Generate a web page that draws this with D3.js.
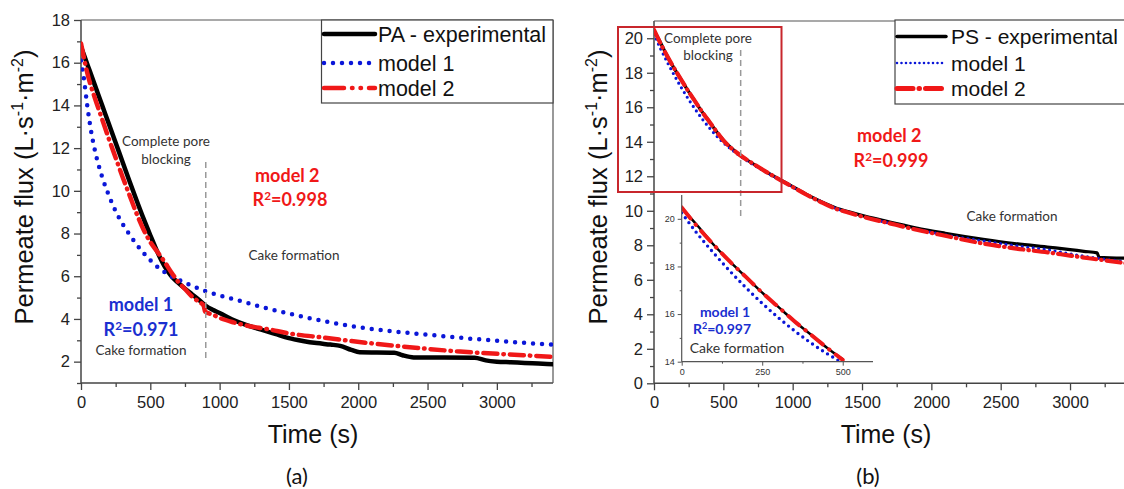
<!DOCTYPE html>
<html><head><meta charset="utf-8">
<script src="https://cdn.jsdelivr.net/npm/d3@7"></script>
<style>
body{margin:0;background:#fff;}
svg{display:block;}
</style></head>
<body>
<svg id="chart" width="1124" height="489"></svg>
<script>
// ---------- DATA ----------
// Panel (a) PA membrane
const timePA   = [0,50,100,150,200,250,300,350,400,450,500,550,600,650,700,750,800,850,900,950,1000,1100,1200,1300,1400,1500,1600,1700,1800,1870,1950,2010,2260,2320,2400,2840,2920,3000,3100,3200,3300,3405];
const fluxPA   = [16.75,15.85,14.95,14.05,13.15,12.25,11.35,10.45,9.57,8.72,7.92,7.15,6.5,6.02,5.7,5.42,5.16,4.9,4.62,4.43,4.28,3.95,3.7,3.5,3.3,3.1,2.97,2.87,2.8,2.74,2.55,2.44,2.42,2.3,2.2,2.18,2.06,2.0,1.97,1.94,1.91,1.88];
const timePAm1 = [0,20,45,70,100,150,200,250,300,350,400,450,500,550,600,650,700,800,900,1000,1100,1200,1340,1532,1750,1989,2250,2506,2750,2999,3200,3405];
const fluxPAm1 = [16.1,15.3,14.0,12.9,11.9,10.7,9.8,9.05,8.45,7.95,7.5,7.1,6.75,6.45,6.2,6.0,5.85,5.55,5.3,5.1,4.93,4.75,4.5,4.2,3.9,3.63,3.42,3.26,3.11,2.98,2.88,2.8];
const timePAm2 = [0,50,100,150,200,250,300,350,400,450,500,550,600,650,700,750,800,850,885,895,950,1000,1100,1200,1340,1532,1748,2037,2446,2734,3191,3405];
const fluxPAm2 = [16.9,15.4,14.35,13.4,12.45,11.55,10.65,9.8,8.95,8.2,7.6,7.15,6.7,6.2,5.75,5.4,5.05,4.8,4.62,4.35,4.2,4.05,3.84,3.68,3.53,3.29,3.13,2.9,2.63,2.47,2.3,2.22];

// Panel (b) PS membrane
const timePS   = [0,50,100,150,200,250,300,350,400,450,500,600,700,800,900,1000,1100,1200,1316,1400,1532,1700,1893,2100,2374,2600,2855,3000,3100,3195,3210,3400];
const fluxPS   = [20.45,19.7,18.9,18.2,17.55,16.9,16.3,15.7,15.15,14.6,14.1,13.35,12.8,12.3,11.85,11.4,10.95,10.55,10.15,9.95,9.66,9.35,9.0,8.7,8.35,8.1,7.88,7.75,7.65,7.56,7.3,7.25];
const timePSm1 = [0,50,100,150,200,250,300,350,400,450,500,600,700,800,900,1000,1100,1200,1316,1400,1532,1700,1893,2100,2374,2600,2855,3000,3200,3400];
const fluxPSm1 = [20.25,19.35,18.55,17.8,17.1,16.45,15.85,15.3,14.8,14.35,13.95,13.3,12.75,12.27,11.82,11.38,10.95,10.55,10.12,9.92,9.6,9.28,8.93,8.6,8.25,7.98,7.72,7.5,7.25,7.05];
const timePSm2 = [0,50,100,150,200,250,300,350,400,450,500,600,700,800,900,1000,1100,1200,1316,1400,1532,1700,1893,2100,2374,2600,2855,3000,3200,3400];
const fluxPSm2 = [20.48,19.65,18.9,18.2,17.55,16.9,16.3,15.7,15.15,14.6,14.08,13.35,12.8,12.3,11.83,11.38,10.93,10.52,10.1,9.9,9.6,9.27,8.9,8.55,8.1,7.82,7.57,7.4,7.18,6.96];

// Ticks and labels
const xTicks      = [0,500,1000,1500,2000,2500,3000];
const xMinor      = [250,750,1250,1750,2250,2750,3250];
const yTicksA     = [2,4,6,8,10,12,14,16,18];
const yMinorA     = [1,3,5,7,9,11,13,15,17];
const yTicksB     = [0,2,4,6,8,10,12,14,16,18,20];
const yMinorB     = [1,3,5,7,9,11,13,15,17,19];
const insetXTicks = [0,250,500];
const insetXMinor = [125,375];
const insetYTicks = [14,16,18,20];
const insetYMinor = [15,17,19];
const legendA = ["PA - experimental","model 1","model 2"];
const legendB = ["PS - experimental","model 1","model 2"];

// ---------- DRAW ----------
const svg = d3.select("#chart");
const AX = "#444";
const BLUE = "#0a16d8", RED = "#f01818", BLACK = "#000";
const SANS = "Liberation Sans, Arial, sans-serif";
const zip = (t,v) => t.map((d,i)=>({t:d,v:v[i]}));

function axes(g, x, y, yTicks, yMinor, x0, x1, y0, y1){
  g.append("g").attr("transform",`translate(0,${y0})`)
    .call(d3.axisBottom(x).tickValues(xTicks).tickSize(7).tickPadding(6).tickFormat(d3.format("d")));
  g.append("g").attr("transform",`translate(0,${y0})`)
    .call(d3.axisBottom(x).tickValues(xMinor).tickSize(4).tickFormat(""));
  g.append("g").attr("transform",`translate(${x0},0)`)
    .call(d3.axisLeft(y).tickValues(yTicks).tickSize(7).tickPadding(4).tickFormat(d3.format("d")));
  g.append("g").attr("transform",`translate(${x0},0)`)
    .call(d3.axisLeft(y).tickValues(yMinor).tickSize(4).tickFormat(""));
  g.selectAll(".domain").remove();
  g.selectAll(".tick line").attr("stroke",AX).attr("stroke-width",1.3);
  g.selectAll(".tick text").attr("font-family",SANS).attr("font-size",16.5).attr("fill","#222");
  g.append("line").attr("x1",x0).attr("x2",x1).attr("y1",y0).attr("y2",y0).attr("stroke",AX).attr("stroke-width",1.5);
  g.append("line").attr("x1",x0).attr("x2",x0).attr("y1",y0).attr("y2",y1).attr("stroke",AX).attr("stroke-width",1.5);
  g.append("line").attr("x1",x0).attr("x2",x1).attr("y1",y1).attr("y2",y1).attr("stroke","#555").attr("stroke-width",1.2);
  g.append("line").attr("x1",x1).attr("x2",x1).attr("y1",y1).attr("y2",y0).attr("stroke","#555").attr("stroke-width",1.2);
}

function series(g, x, y, data, style){
  const line = d3.line().x(d=>x(d.t)).y(d=>y(d.v)).curve(d3.curveMonotoneX);
  g.append("path").datum(data).attr("d",line).attr("fill","none")
    .attr("stroke",style.color).attr("stroke-width",style.w)
    .attr("stroke-dasharray",style.dash||null)
    .attr("stroke-linecap",style.cap||"butt").attr("stroke-linejoin","round");
}

function yLabel(cx, cy){
  const t = svg.append("text").attr("transform",`translate(${cx},${cy}) rotate(-90)`)
    .attr("text-anchor","middle").attr("font-family",SANS)
    .attr("font-size",25.5).attr("fill","#111");
  t.append("tspan").text("Permeate flux (L·s");
  t.append("tspan").attr("dy",-10).attr("font-size",16).text("-1");
  t.append("tspan").attr("dy",10).text("·m");
  t.append("tspan").attr("dy",-10).attr("font-size",16).text("-2");
  t.append("tspan").attr("dy",10).text(")");
}

function note(x, y, txt, opt={}){
  return svg.append("text").attr("x",x).attr("y",y).attr("text-anchor",opt.anchor||"middle")
    .attr("font-family","Lato, Open Sans, sans-serif").attr("font-size",opt.size||13.5)
    .attr("font-weight",opt.bold?"bold":"normal").attr("fill",opt.color||"#333").text(txt);
}
function r2(x, y, val, color, size){
  const t = svg.append("text").attr("x",x).attr("y",y).attr("text-anchor","middle")
    .attr("font-family","Lato, Open Sans, sans-serif").attr("font-size",size).attr("font-weight","bold").attr("fill",color);
  t.append("tspan").text("R");
  t.append("tspan").attr("dy",-size*0.35).attr("font-size",size*0.65).text("2");
  t.append("tspan").attr("dy",size*0.35).text("=" + val);
}

const styleExpA = {color:BLACK, w:4.5, cap:"round"};
const styleM1A  = {color:BLUE, w:4.5, dash:"0,9", cap:"round"};
const styleM2A  = {color:RED, w:4.5, dash:"14,6,0.5,6", cap:"round"};
const styleExpB = {color:BLACK, w:3.2, cap:"round"};
const styleM1B  = {color:BLUE, w:3.2, dash:"0,5.5", cap:"round"};
const styleM2B  = {color:RED, w:4.2, dash:"14,5,0.5,5", cap:"round"};

// ---- Panel (a) ----
{
  const x0=81, x1=553, yb=383, yt=20;
  const x = d3.scaleLinear().domain([0,3405]).range([x0,x1]);
  const y = d3.scaleLinear().domain([1,18]).range([yb,yt]);
  const g = svg.append("g");
  svg.append("clipPath").attr("id","clipA").append("rect").attr("x",x0).attr("y",yt).attr("width",x1-x0).attr("height",yb-yt);
  const gl = svg.append("g").attr("clip-path","url(#clipA)");
  svg.append("line").attr("x1",x(900)).attr("x2",x(900)).attr("y1",162).attr("y2",362)
    .attr("stroke","#999").attr("stroke-width",1.5).attr("stroke-dasharray","6,4");
  series(gl,x,y,zip(timePA,fluxPA),styleExpA);
  series(gl,x,y,zip(timePAm1,fluxPAm1),styleM1A);
  series(gl,x,y,zip(timePAm2,fluxPAm2),styleM2A);
  axes(g,x,y,yTicksA,yMinorA,x0,x1,yb,yt);
  const lg = svg.append("g");
  lg.append("rect").attr("x",321.5).attr("y",20).attr("width",553-321.5).attr("height",83)
    .attr("fill","#fff").attr("stroke","#444").attr("stroke-width",1.2);
  const sty=[styleExpA,styleM1A,{...styleM2A,dash:"20,8,0.5,8,0.5,8"}];
  const ly=[34,63,88];
  legendA.forEach((l,i)=>{
    lg.append("line").attr("x1",324).attr("x2",375).attr("y1",ly[i]).attr("y2",ly[i])
      .attr("stroke",sty[i].color).attr("stroke-width",sty[i].w).attr("stroke-dasharray",sty[i].dash||null).attr("stroke-linecap","round");
    lg.append("text").attr("x",378).attr("y",ly[i]+7.5).attr("font-family",SANS)
      .attr("font-size",21.5).attr("fill","#111").text(l);
  });
  yLabel(33,187);
  svg.append("text").attr("x",313).attr("y",443).attr("text-anchor","middle").attr("font-family",SANS).attr("font-size",25).attr("fill","#111").text("Time (s)");
  note(297,484,"(a)",{size:22,color:"#111"});
  note(166,146,"Complete pore");
  note(166,164,"blocking");
  note(255,182,"model 2",{bold:true,color:RED,size:18,anchor:"start"});
  r2(290,206,"0.998",RED,18);
  note(294,260,"Cake formation");
  note(141,311,"model 1",{bold:true,color:"#1a2fd0",size:18});
  r2(141,336,"0.971","#1a2fd0",18);
  note(141,355,"Cake formation");
}

// ---- Panel (b) ----
{
  const x0=654, x1=1125.5, yb=383.3, yt=21;
  const x = d3.scaleLinear().domain([0,3400]).range([x0,x1]);
  const y = d3.scaleLinear().domain([0,21]).range([yb,yt]);
  const g = svg.append("g");
  svg.append("clipPath").attr("id","clipB").append("rect").attr("x",x0).attr("y",yt).attr("width",x1-x0).attr("height",yb-yt);
  const gl = svg.append("g").attr("clip-path","url(#clipB)");
  svg.append("line").attr("x1",x(625)).attr("x2",x(625)).attr("y1",50).attr("y2",220)
    .attr("stroke","#999").attr("stroke-width",1.5).attr("stroke-dasharray","6,4");
  series(gl,x,y,zip(timePS,fluxPS),styleExpB);
  series(gl,x,y,zip(timePSm1,fluxPSm1),styleM1B);
  series(gl,x,y,zip(timePSm2,fluxPSm2),styleM2B);
  axes(g,x,y,yTicksB,yMinorB,x0,x1,yb,yt);
  svg.append("rect").attr("x",618).attr("y",27).attr("width",781.5-618).attr("height",192-27)
    .attr("fill","none").attr("stroke","#c8262c").attr("stroke-width",2);
  // inset
  const ix = d3.scaleLinear().domain([0,594]).range([681.7,873]);
  const iy = d3.scaleLinear().domain([14,21]).range([361.7,195]);
  svg.append("clipPath").attr("id","clipI").append("rect").attr("x",681.7).attr("y",195).attr("width",873-681.7).attr("height",361.7-195+2);
  const gi = svg.append("g").attr("clip-path","url(#clipI)");
  const cut = (t,v)=>zip(t,v).filter(d=>d.t<=520);
  series(gi,ix,iy,cut(timePS,fluxPS),{color:BLACK,w:2.5,cap:"round"});
  series(gi,ix,iy,cut(timePSm1,fluxPSm1),{color:BLUE,w:3.4,dash:"0,6",cap:"round"});
  series(gi,ix,iy,cut(timePSm2,fluxPSm2),{color:RED,w:4,dash:"14,8,0.5,8",cap:"round"});
  const ia = svg.append("g");
  ia.append("g").attr("transform","translate(0,361.7)").call(d3.axisBottom(ix).tickValues(insetXTicks).tickSize(4).tickPadding(3).tickFormat(d3.format("d")));
  ia.append("g").attr("transform","translate(0,361.7)").call(d3.axisBottom(ix).tickValues(insetXMinor).tickSize(2).tickFormat(""));
  ia.append("g").attr("transform","translate(681.7,0)").call(d3.axisLeft(iy).tickValues(insetYTicks).tickSize(4).tickPadding(3).tickFormat(d3.format("d")));
  ia.append("g").attr("transform","translate(681.7,0)").call(d3.axisLeft(iy).tickValues(insetYMinor).tickSize(2).tickFormat(""));
  ia.selectAll(".domain").remove();
  ia.selectAll(".tick line").attr("stroke","#555");
  ia.selectAll(".tick text").attr("font-family",SANS).attr("font-size",9).attr("fill","#333");
  ia.append("line").attr("x1",681.7).attr("x2",873).attr("y1",361.7).attr("y2",361.7).attr("stroke","#555").attr("stroke-width",1.2);
  ia.append("line").attr("x1",681.7).attr("x2",681.7).attr("y1",195).attr("y2",361.7).attr("stroke","#555").attr("stroke-width",1.2);
  const lg = svg.append("g");
  lg.append("rect").attr("x",895).attr("y",20).attr("width",240).attr("height",84)
    .attr("fill","#fff").attr("stroke","#444").attr("stroke-width",1.2);
  const sty=[{...styleExpB,w:3.5},{...styleM1B,w:2.6,dash:"0,4.5"},{...styleM2B,w:5,dash:"16,6,0.5,6"}];
  const ly=[36.5,63,88.5];
  legendB.forEach((l,i)=>{
    lg.append("line").attr("x1",897).attr("x2",946).attr("y1",ly[i]).attr("y2",ly[i])
      .attr("stroke",sty[i].color).attr("stroke-width",sty[i].w).attr("stroke-dasharray",sty[i].dash||null).attr("stroke-linecap","round");
    lg.append("text").attr("x",951).attr("y",ly[i]+7.5).attr("font-family",SANS)
      .attr("font-size",21).attr("fill","#111").text(l);
  });
  yLabel(607,187);
  svg.append("text").attr("x",886).attr("y",443).attr("text-anchor","middle").attr("font-family",SANS).attr("font-size",25).attr("fill","#111").text("Time (s)");
  note(868,484,"(b)",{size:22,color:"#111"});
  note(708,43,"Complete pore");
  note(708,60,"blocking");
  note(857,142,"model 2",{bold:true,color:RED,size:18,anchor:"start"});
  r2(891,167,"0.999",RED,18);
  note(1012,221,"Cake formation");
  note(725,317,"model 1",{bold:true,color:"#1a2fd0",size:14});
  r2(722,334,"0.997","#1a2fd0",14);
  note(737,353,"Cake formation",{size:14});
}
</script>
</body></html>
